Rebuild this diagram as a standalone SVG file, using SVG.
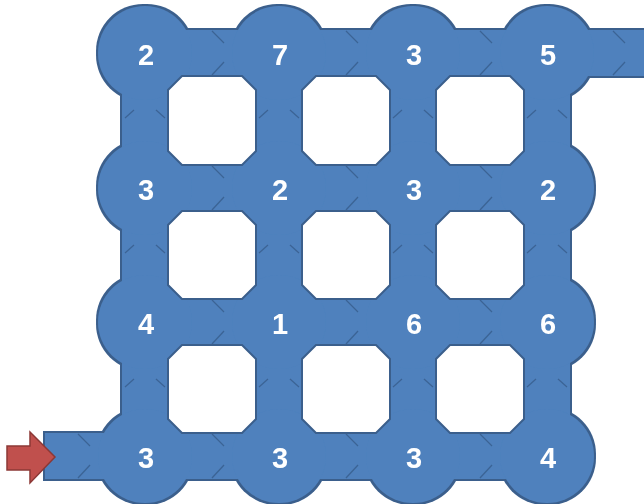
<svg xmlns="http://www.w3.org/2000/svg" width="644" height="504" viewBox="0 0 644 504">
<style>
.bar{fill:#4f81bd}
.nd circle{fill:#4f81bd}
.nd text{fill:#ffffff;font-family:"Liberation Sans",Arial,sans-serif;font-weight:bold;font-size:29px;text-anchor:middle}
.chev{fill:none;stroke:#2c4d75;stroke-width:1.3;opacity:0.55}
.hole{fill:#ffffff;stroke:#3b5f8c;stroke-width:2}
</style>
<defs>
<filter id="edge" filterUnits="userSpaceOnUse" x="0" y="0" width="644" height="504">
<feMorphology in="SourceAlpha" operator="dilate" radius="1.6" result="d"/>
<feFlood flood-color="#3b5f8c"/>
<feComposite in2="d" operator="in" result="o"/>
<feMerge><feMergeNode in="o"/><feMergeNode in="SourceGraphic"/></feMerge>
</filter>
</defs>
<rect width="644" height="504" fill="#ffffff"/>
<g filter="url(#edge)">
<g id="connectors">
<rect class="bar" x="45" y="433" width="100" height="46"/>
<rect class="bar" x="547" y="30" width="110" height="46"/>
<rect class="bar" x="145" y="30" width="134" height="46"/>
<rect class="bar" x="279" y="30" width="134" height="46"/>
<rect class="bar" x="413" y="30" width="134" height="46"/>
<rect class="bar" x="145" y="165" width="134" height="46"/>
<rect class="bar" x="279" y="165" width="134" height="46"/>
<rect class="bar" x="413" y="165" width="134" height="46"/>
<rect class="bar" x="145" y="299" width="134" height="46"/>
<rect class="bar" x="279" y="299" width="134" height="46"/>
<rect class="bar" x="413" y="299" width="134" height="46"/>
<rect class="bar" x="145" y="433" width="134" height="46"/>
<rect class="bar" x="279" y="433" width="134" height="46"/>
<rect class="bar" x="413" y="433" width="134" height="46"/>
<rect class="bar" x="122" y="53" width="46" height="135"/>
<rect class="bar" x="122" y="188" width="46" height="134"/>
<rect class="bar" x="122" y="322" width="46" height="134"/>
<rect class="bar" x="256" y="53" width="46" height="135"/>
<rect class="bar" x="256" y="188" width="46" height="134"/>
<rect class="bar" x="256" y="322" width="46" height="134"/>
<rect class="bar" x="390" y="53" width="46" height="135"/>
<rect class="bar" x="390" y="188" width="46" height="134"/>
<rect class="bar" x="390" y="322" width="46" height="134"/>
<rect class="bar" x="524" y="53" width="46" height="135"/>
<rect class="bar" x="524" y="188" width="46" height="134"/>
<rect class="bar" x="524" y="322" width="46" height="134"/>
<path class="chev" d="M212,31L224,43M224,62L212,75M346,31L358,43M358,62L346,75M480,31L492,43M492,62L480,75M613,31L625,43M625,62L613,75
M212,166L224,178M224,197L212,210M346,166L358,178M358,197L346,210M480,166L492,178M492,197L480,210
M212,300L224,312M224,331L212,344M346,300L358,312M358,331L346,344M480,300L492,312M492,331L480,344
M212,434L224,446M224,465L212,478M346,434L358,446M358,465L346,478M480,434L492,446M492,465L480,478M78,434L90,446M90,465L78,478
M125,118L134,110M156,110L165,118M125,253L134,245M156,245L165,253M125,387L134,379M156,379L165,387
M259,118L268,110M290,110L299,118M259,253L268,245M290,245L299,253M259,387L268,379M290,379L299,387
M393,118L402,110M424,110L433,118M393,253L402,245M424,245L433,253M393,387L402,379M424,379L433,387
M527,118L536,110M558,110L567,118M527,253L536,245M558,245L567,253M527,387L536,379M558,379L567,387"/>
</g>
<g id="n-0-0" class="nd"><circle cx="145" cy="53" r="47"/><text x="146" y="65">2</text></g>
<g id="n-0-1" class="nd"><circle cx="279" cy="53" r="47"/><text x="280" y="65">7</text></g>
<g id="n-0-2" class="nd"><circle cx="413" cy="53" r="47"/><text x="414" y="65">3</text></g>
<g id="n-0-3" class="nd"><circle cx="547" cy="53" r="47"/><text x="548" y="65">5</text></g>
<g id="n-1-0" class="nd"><circle cx="145" cy="188" r="47"/><text x="146" y="200">3</text></g>
<g id="n-1-1" class="nd"><circle cx="279" cy="188" r="47"/><text x="280" y="200">2</text></g>
<g id="n-1-2" class="nd"><circle cx="413" cy="188" r="47"/><text x="414" y="200">3</text></g>
<g id="n-1-3" class="nd"><circle cx="547" cy="188" r="47"/><text x="548" y="200">2</text></g>
<g id="n-2-0" class="nd"><circle cx="145" cy="322" r="47"/><text x="146" y="334">4</text></g>
<g id="n-2-1" class="nd"><circle cx="279" cy="322" r="47"/><text x="280" y="334">1</text></g>
<g id="n-2-2" class="nd"><circle cx="413" cy="322" r="47"/><text x="414" y="334">6</text></g>
<g id="n-2-3" class="nd"><circle cx="547" cy="322" r="47"/><text x="548" y="334">6</text></g>
<g id="n-3-0" class="nd"><circle cx="145" cy="456" r="47"/><text x="146" y="468">3</text></g>
<g id="n-3-1" class="nd"><circle cx="279" cy="456" r="47"/><text x="280" y="468">3</text></g>
<g id="n-3-2" class="nd"><circle cx="413" cy="456" r="47"/><text x="414" y="468">3</text></g>
<g id="n-3-3" class="nd"><circle cx="547" cy="456" r="47"/><text x="548" y="468">4</text></g>
</g>
<g id="holes">
<polygon class="hole" points="182,76 242,76 256,90 256,151 242,165 182,165 168,151 168,90"/>
<polygon class="hole" points="316,76 376,76 390,90 390,151 376,165 316,165 302,151 302,90"/>
<polygon class="hole" points="450,76 510,76 524,90 524,151 510,165 450,165 436,151 436,90"/>
<polygon class="hole" points="182,211 242,211 256,225 256,285 242,299 182,299 168,285 168,225"/>
<polygon class="hole" points="316,211 376,211 390,225 390,285 376,299 316,299 302,285 302,225"/>
<polygon class="hole" points="450,211 510,211 524,225 524,285 510,299 450,299 436,285 436,225"/>
<polygon class="hole" points="182,345 242,345 256,359 256,419 242,433 182,433 168,419 168,359"/>
<polygon class="hole" points="316,345 376,345 390,359 390,419 376,433 316,433 302,419 302,359"/>
<polygon class="hole" points="450,345 510,345 524,359 524,419 510,433 450,433 436,419 436,359"/>
</g>
<g id="start-arrow">
<polygon points="7,446 30,446 30,432 55,457 30,483 30,470 7,470" fill="#c0504d" stroke="#8c3836" stroke-width="1.5" stroke-linejoin="miter"/>
</g>
</svg>
